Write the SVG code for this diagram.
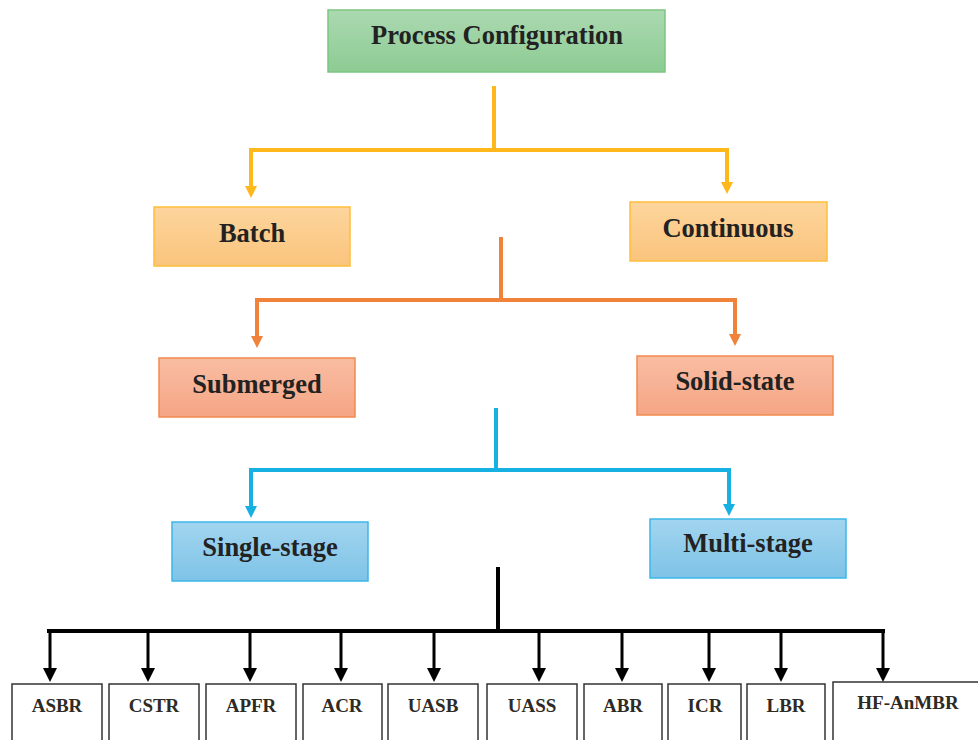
<svg xmlns="http://www.w3.org/2000/svg" width="978" height="740" viewBox="0 0 978 740">
<defs>
<linearGradient id="gGreen" x1="0" y1="0" x2="0" y2="1"><stop offset="0" stop-color="#abd9b1"/><stop offset="1" stop-color="#8dcb93"/></linearGradient>
<linearGradient id="gOrange" x1="0" y1="0" x2="0" y2="1"><stop offset="0" stop-color="#fdd59d"/><stop offset="1" stop-color="#fac47c"/></linearGradient>
<linearGradient id="gSalmon" x1="0" y1="0" x2="0" y2="1"><stop offset="0" stop-color="#f9bda3"/><stop offset="1" stop-color="#f5a584"/></linearGradient>
<linearGradient id="gBlue" x1="0" y1="0" x2="0" y2="1"><stop offset="0" stop-color="#a2d5ef"/><stop offset="1" stop-color="#7ec3e7"/></linearGradient>
</defs>
<style>
text{font-family:'Liberation Serif',serif;font-weight:700;fill:#222;text-anchor:middle}
.big{font-size:26.5px}
.sm{font-size:19px;fill:#2e2a24}
.y{stroke:#ffb81c;stroke-width:4;fill:none}
.o{stroke:#f0823a;stroke-width:4;fill:none}
.b{stroke:#16b0e2;stroke-width:4;fill:none}
.k{stroke:#000;stroke-width:4;fill:none}
.k3{stroke:#000;stroke-width:3;fill:none}
.wb{fill:#fff;stroke:#333;stroke-width:1.5}
</style>
<g id="connectors">
<g id="c-yellow">
<path class="y" d="M494,86 V150 M249,150 H729 M251,148 V188 M727,148 V184"/>
<polygon points="245,186 257,186 251,198" fill="#ffb81c"/>
<polygon points="721,182 733,182 727,194" fill="#ffb81c"/>
</g>
<g id="c-orange">
<path class="o" d="M501,237 V300 M255,300 H737 M257,298 V338 M735,298 V336"/>
<polygon points="251,336 263,336 257,348" fill="#f0823a"/>
<polygon points="729,334 741,334 735,346" fill="#f0823a"/>
</g>
<g id="c-blue">
<path class="b" d="M496,408 V470 M249,470 H731 M251,468 V508 M729,468 V506"/>
<polygon points="245,506 257,506 251,518" fill="#16b0e2"/>
<polygon points="723,504 735,504 729,516" fill="#16b0e2"/>
</g>
<g id="c-black">
<path class="k" d="M498,567 V631 M47,631 H885"/>
<path class="k3" d="M50,631 V670 M148,631 V670 M250,631 V670 M341,631 V670 M434,631 V670 M539,631 V670 M622,631 V670 M709,631 V670 M781,631 V670 M883,631 V670"/>
<g fill="#000">
<polygon points="43,668 57,668 50,682"/>
<polygon points="141,668 155,668 148,682"/>
<polygon points="243,668 257,668 250,682"/>
<polygon points="334,668 348,668 341,682"/>
<polygon points="427,668 441,668 434,682"/>
<polygon points="532,668 546,668 539,682"/>
<polygon points="615,668 629,668 622,682"/>
<polygon points="702,668 716,668 709,682"/>
<polygon points="774,668 788,668 781,682"/>
<polygon points="876,668 890,668 883,682"/>
</g>
</g>
</g>
<g id="n-process">
<rect x="328" y="10" width="337" height="62" fill="url(#gGreen)" stroke="#7cc580" stroke-width="1.5"/>
<text class="big" x="497" y="44">Process Configuration</text>
</g>
<g id="n-batch">
<rect x="154" y="207" width="196" height="59" fill="url(#gOrange)" stroke="#ffbf3a" stroke-width="1.5"/>
<text class="big" x="252" y="242">Batch</text>
</g>
<g id="n-continuous">
<rect x="630" y="202" width="197" height="59" fill="url(#gOrange)" stroke="#ffbf3a" stroke-width="1.5"/>
<text class="big" x="728" y="237">Continuous</text>
</g>
<g id="n-submerged">
<rect x="159" y="358" width="196" height="59" fill="url(#gSalmon)" stroke="#f28a4e" stroke-width="1.5"/>
<text class="big" x="257" y="393">Submerged</text>
</g>
<g id="n-solid">
<rect x="637" y="356" width="196" height="59" fill="url(#gSalmon)" stroke="#f28a4e" stroke-width="1.5"/>
<text class="big" x="735" y="390">Solid-state</text>
</g>
<g id="n-single">
<rect x="172" y="522" width="196" height="59" fill="url(#gBlue)" stroke="#3db6e8" stroke-width="1.5"/>
<text class="big" x="270" y="556">Single-stage</text>
</g>
<g id="n-multi">
<rect x="650" y="519" width="196" height="59" fill="url(#gBlue)" stroke="#3db6e8" stroke-width="1.5"/>
<text class="big" x="748" y="552">Multi-stage</text>
</g>
<g id="n-asbr"><rect class="wb" x="12" y="684" width="90" height="70"/><text class="sm" x="57" y="712">ASBR</text></g>
<g id="n-cstr"><rect class="wb" x="109" y="684" width="90" height="70"/><text class="sm" x="154" y="712">CSTR</text></g>
<g id="n-apfr"><rect class="wb" x="206" y="684" width="90" height="70"/><text class="sm" x="251" y="712">APFR</text></g>
<g id="n-acr"><rect class="wb" x="303" y="684" width="79" height="70"/><text class="sm" x="342" y="712">ACR</text></g>
<g id="n-uasb"><rect class="wb" x="388" y="684" width="90" height="70"/><text class="sm" x="433" y="712">UASB</text></g>
<g id="n-uass"><rect class="wb" x="487" y="684" width="90" height="70"/><text class="sm" x="532" y="712">UASS</text></g>
<g id="n-abr"><rect class="wb" x="584" y="684" width="78" height="70"/><text class="sm" x="623" y="712">ABR</text></g>
<g id="n-icr"><rect class="wb" x="668" y="684" width="73" height="70"/><text class="sm" x="705" y="712">ICR</text></g>
<g id="n-lbr"><rect class="wb" x="747" y="684" width="78" height="70"/><text class="sm" x="786" y="712">LBR</text></g>
<g id="n-hf"><rect class="wb" x="833" y="682" width="160" height="70"/><text class="sm" x="908" y="709">HF-AnMBR</text></g>
</svg>
